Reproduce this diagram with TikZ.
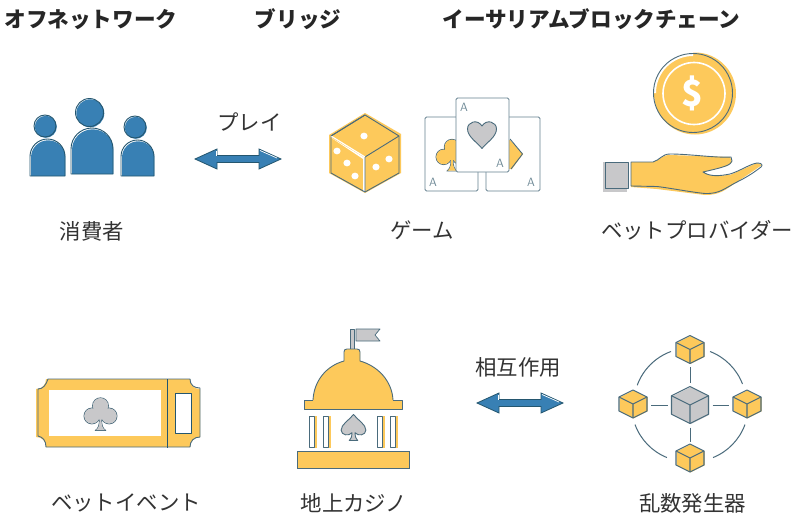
\documentclass[tikz,border=0pt]{standalone}
\usepackage{fontspec}
\newfontfamily\jpfont{Noto Sans CJK JP}
\definecolor{bluefill}{HTML}{3880B4}
\definecolor{bluedark}{HTML}{24566F}
\definecolor{yel}{HTML}{FDC95B}
\definecolor{gry}{HTML}{C8C8CA}
\definecolor{edge}{HTML}{4A6B7C}
\definecolor{txt}{HTML}{333333}
\tikzset{
  titletext/.style={font=\jpfont\bfseries\fontsize{21.6}{25}\selectfont,text=black!85,inner sep=0pt},
  labeltext/.style={font=\jpfont\fontsize{21.4}{25}\selectfont,text=txt,inner sep=0pt},
  iconline/.style={draw=edge,line width=0.9pt,line join=round},
  bluefillstyle/.style={fill=bluefill},
  pip/.style={fill=white},
  cardbox/.style={draw=edge!85,line width=0.9pt,fill=white,rounded corners=1.5pt},
  cardletter/.style={font=\sffamily\fontsize{12}{14}\selectfont,text=edge!80,inner sep=0pt},
  hubspot/.style={circle,minimum size=45pt,inner sep=0pt,outer sep=0pt},
  satspot/.style={circle,minimum size=36pt,inner sep=0pt,outer sep=0pt},
  spoke/.style={draw=edge,line width=1pt},
  ringarc/.style={draw=edge,line width=1pt},
}
% person: head x, head y, head r, body centre x, body half width, body top y, body bottom y
\newcommand{\personicon}[7]{%
  \fill[bluefillstyle] (#1+0.8,#2+0.8) circle (#3);
  \draw[iconline,draw=bluedark] (#1,#2) circle (#3);
  \fill[bluefillstyle] (#4-#5+1,#7) -- (#4-#5+1,#6+#5+1) arc[start angle=180,end angle=360,radius=#5-0.3] -- (#4+#5+0.4,#7) -- cycle;
  \draw[iconline,draw=bluedark] (#4-#5,#7) -- (#4-#5,#6+#5) arc[start angle=180,end angle=360,radius=#5] -- (#4+#5,#7) -- cycle;
}
\newcommand{\dblarrow}[2]{%
  \begin{scope}[shift={(#1,#2)}]
    \path[fill=bluefill,draw=bluedark,line width=0.8pt,line join=miter]
      (0,0) -- (22,-10) -- (22,-3.5) -- (64,-3.5) -- (64,-10) -- (86,0) -- (64,10) -- (64,3.5) -- (22,3.5) -- (22,10) -- cycle;
    \draw[white,line width=0.7pt] (65,-8.5) -- (82,-1);
    \draw[white,line width=0.7pt] (21,-8) -- (21,-3);
  \end{scope}
}
\newcommand{\cubeicon}[4]{%
  \begin{scope}[shift={(#1,#2)},scale=#3]
    \path[fill=#4] (0.04,-0.97) -- (1.04,-0.47) -- (1.04,0.53) -- (0.04,1.03) -- (-0.96,0.53) -- (-0.96,-0.47) -- cycle;
    \path[iconline,line width=1.1pt] (0,-1) -- (1,-0.5) -- (1,0.5) -- (0,1) -- (-1,0.5) -- (-1,-0.5) -- cycle;
    \path[iconline,line width=1.1pt] (-1,-0.5) -- (0,0) -- (1,-0.5) (0,0) -- (0,1);
  \end{scope}
}
\newcommand{\clubicon}[4]{%
  \begin{scope}[shift={(#1,#2)},scale=#3]
    \path[iconline] (0,-0.5) circle (0.48) (-0.52,0.12) circle (0.48) (0.52,0.12) circle (0.48);
    \path[iconline] (-0.06,0.3) .. controls (-0.06,0.7) and (-0.15,0.9) .. (-0.32,1) -- (0.32,1) .. controls (0.15,0.9) and (0.06,0.7) .. (0.06,0.3) -- cycle;
    \path[fill=#4] (0,-0.5) circle (0.46) (-0.52,0.12) circle (0.46) (0.52,0.12) circle (0.46) (0,0) circle (0.35);
    \path[fill=#4] (-0.05,0.3) .. controls (-0.05,0.7) and (-0.13,0.88) .. (-0.27,0.97) -- (0.27,0.97) .. controls (0.13,0.88) and (0.05,0.7) .. (0.05,0.3) -- cycle;
  \end{scope}
}
\newcommand{\hearticon}[3]{%
  \begin{scope}[shift={(#1,#2)},scale=#3]
    \path[iconline,fill=gry] (0,1) .. controls (-0.3,0.6) and (-1,0.2) .. (-1,-0.35) .. controls (-1,-0.85) and (-0.3,-1.05) .. (0,-0.55) .. controls (0.3,-1.05) and (1,-0.85) .. (1,-0.35) .. controls (1,0.2) and (0.3,0.6) .. (0,1) -- cycle;
  \end{scope}
}
\newcommand{\spadeicon}[3]{%
  \begin{scope}[shift={(#1,#2)},scale=#3]
    \path[iconline,fill=gry] (0,-1) .. controls (0.35,-0.55) and (0.95,-0.25) .. (0.95,0.2) .. controls (0.95,0.6) and (0.35,0.7) .. (0.12,0.4) .. controls (0.12,0.7) and (0.2,0.9) .. (0.32,1) -- (-0.32,1) .. controls (-0.2,0.9) and (-0.12,0.7) .. (-0.12,0.4) .. controls (-0.35,0.7) and (-0.95,0.6) .. (-0.95,0.2) .. controls (-0.95,-0.25) and (-0.35,-0.55) .. (0,-1) -- cycle;
  \end{scope}
}
\begin{document}
\begin{tikzpicture}[x=1pt,y=-1pt]
\useasboundingbox[fill=white] (0,0) rectangle (796,514);

% Titles
\node[titletext] (t1) at (91,19.5) {オフネットワーク};
\node[titletext] (t2) at (298,19.5) {ブリッジ};
\node[titletext] (t3) at (591.5,19.5) {イーサリアムブロックチェーン};

% Consumers
\personicon{45}{126}{11}{47.5}{17.5}{139}{176}
\personicon{89.5}{112.5}{14}{92}{21}{128}{174}
\personicon{135}{127}{11}{137.5}{16.5}{140}{176}
\node[labeltext] (consumer) at (92,231) {消費者};

% play arrow
\dblarrow{195}{159}
\node[labeltext] (play) at (249.5,122) {プレイ};

% Dice
\path[fill=yel] (365,113) -- (401,134) -- (401,173) -- (365,193) -- (329,173) -- (329,135) -- cycle;
\path[fill=white] (330,137) -- (365,158) -- (365,192) -- (363,192) -- (363,159) -- cycle;
\draw[iconline] (365,115) -- (399,136) -- (399,173) -- (365,192) -- (331,173) -- (331,136) -- cycle;
\draw[iconline] (399,136) -- (365,157) -- (365,192);
\draw[white,line width=1.2pt] (331,136) -- (365,157);
\draw[iconline] (331,136) -- (365,115);
\foreach \px/\py in {364/136,337/151,347/163,355/176,389/159,376/167}
  \fill[pip] (\px,\py) ellipse (3.6 and 3.4);

% Cards
\draw[cardbox] (425,117) rectangle (478,191);
\draw[cardbox] (486,117) rectangle (540,191);
\clubicon{452}{155}{16}{yel}
\path[fill=yel] (510,140) -- (523,154) -- (512,169) -- (500,169) -- (500,140) -- cycle;
\draw[iconline] (510,139) -- (522.5,154) -- (511,169);
\draw[cardbox] (456,98) rectangle (509,172);
\hearticon{482}{134}{14.5}
\node[cardletter] (a1) at (464,107) {A};
\node[cardletter] (a2) at (500,163) {A};
\node[cardletter] (a3) at (433,182) {A};
\node[cardletter] (a4) at (531,182) {A};
\node[labeltext] (game) at (422,230) {ゲーム};

% Coin
\fill[yel] (695,93.5) circle (41);
\fill[white] (652,93) arc[start angle=180,end angle=270,radius=41] -- (693,56) arc[start angle=270,end angle=180,radius=37] -- cycle;
\draw[edge,line width=0.9pt] (693,93) circle (39.5);
\draw[white,line width=1.6pt] (694,93.5) circle (31);
\node[text=white,inner sep=0pt,font=\jpfont\bfseries\fontsize{36}{38}\selectfont] (dollar) at (692.5,93.5) {\$};

% Hand
\fill[gry] (603,162) rectangle (627,192);
\draw[iconline,fill=gry] (605,162) rectangle (628,188);
\path[fill=yel,draw=none] (631,162) -- (653,162) .. controls (660,160) and (662,155) .. (670,155) -- (730,157) -- (732,162) -- (727,166) -- (703,172) -- (712,176) -- (730,175) -- (757,163) -- (762,165) -- (737,182) .. controls (725,190) and (720,195) .. (705,195) -- (657,189) -- (631,187) -- cycle;
\draw[iconline] (631,186) -- (631,162) -- (653,162) .. controls (660,160) and (662,154) .. (670,154) .. controls (690,154) and (715,158) .. (731,157) -- (732,161) .. controls (731,165) and (725,167) .. (703,172) .. controls (710,177) and (720,176) .. (730,174) .. controls (740,171) and (750,164) .. (757,163) .. controls (762,163) and (763,165) .. (761,167) .. controls (752,174) and (745,178) .. (737,182) .. controls (725,188) and (720,194) .. (705,193.5) .. controls (690,192) and (670,188) .. (657,186.5) -- cycle;
\node[labeltext] (provider) at (697,230) {ベットプロバイダー};

% Ticket
\path[fill=yel] (46,379) -- (190,379) .. controls (190,385) and (194,389) .. (200,389) -- (200,437) .. controls (194,437) and (190,441) .. (190,447) -- (46,447) .. controls (46,441) and (42,437) .. (36,437) -- (36,389) .. controls (42,389) and (46,385) .. (46,379) -- cycle;
\draw[iconline] (48,379) -- (190,379) .. controls (190,385) and (194,388) .. (200,388) -- (200,437) .. controls (194,437) and (190,441) .. (190,447) -- (46,447) .. controls (46,441) and (43,437) .. (38,436) -- (38,389) .. controls (43,389) and (46,385) .. (48,379) -- cycle;
\fill[white] (49,390) rectangle (161,436);
\draw[draw=bluedark,line width=0.9pt] (167,379) -- (167,448);
\draw[iconline,draw=bluedark,fill=white] (175,393) rectangle (191,433);
\clubicon{100.5}{414}{16.5}{gry}
\node[labeltext] (event) at (126,503) {ベットイベント};

% Casino
\draw[iconline,fill=gry,line width=0.7pt] (350,329) rectangle (354,349);
\draw[iconline,fill=gry,line width=0.7pt] (356,329) -- (380,329) -- (375,335) -- (380,341) -- (356,341) -- cycle;
\path[iconline,fill=yel] (304,400) rectangle (402,409.5);
\path[fill=yel] (313,399) rectangle (393,401);
\path[iconline,fill=yel] (313,400) .. controls (314,381) and (326,366) .. (344,361) -- (344,352) .. controls (344,350) and (345,349) .. (347,349) -- (357,349) .. controls (359,349) and (360,350) .. (360,352) -- (360,361) .. controls (378,366) and (392,381) .. (393,400);
\foreach \cx in {309,323,377,390} {
  \fill[yel] (\cx+2,416) rectangle (\cx+7.5,448);
  \draw[iconline,fill=white] (\cx,416) rectangle (\cx+5.5,447);
}
\fill[yel] (297,451) rectangle (409,468);
\draw[edge,line width=0.6pt] (297,451) rectangle (409,468);
\spadeicon{353.5}{427.5}{13}
\node[labeltext] (casino) at (354,503) {地上カジノ};

% interaction arrow
\dblarrow{477}{403}
\node[labeltext] (inter) at (518,367) {相互作用};

% Network
\node[hubspot] (hub) at (690,405) {};
\node[satspot] (north) at (690,349) {};
\node[satspot] (south) at (690,460) {};
\node[satspot] (west) at (633,405) {};
\node[satspot] (east) at (747,405) {};
\draw[spoke] (hub) -- (north);
\draw[spoke] (hub) -- (south);
\draw[spoke] (hub) -- (west);
\draw[spoke] (hub) -- (east);
\begin{scope}[shift={(690,404.5)}]
  \draw[ringarc] (-19,-53) arc[start angle=-110,end angle=-160,radius=56.5];
  \draw[ringarc] (20,-53) arc[start angle=-69,end angle=-21,radius=56.5];
  \draw[ringarc] (-55,20) arc[start angle=160,end angle=112,radius=56.5];
  \draw[ringarc] (55,20) arc[start angle=20,end angle=68,radius=56.5];
\end{scope}
\cubeicon{690}{405}{18.5}{gry}
\cubeicon{690}{349.5}{14}{yel}
\cubeicon{690}{458}{14}{yel}
\cubeicon{633}{404}{14}{yel}
\cubeicon{747}{404}{14}{yel}
\node[labeltext] (rng) at (692.5,503) {乱数発生器};
\end{tikzpicture}
\end{document}
